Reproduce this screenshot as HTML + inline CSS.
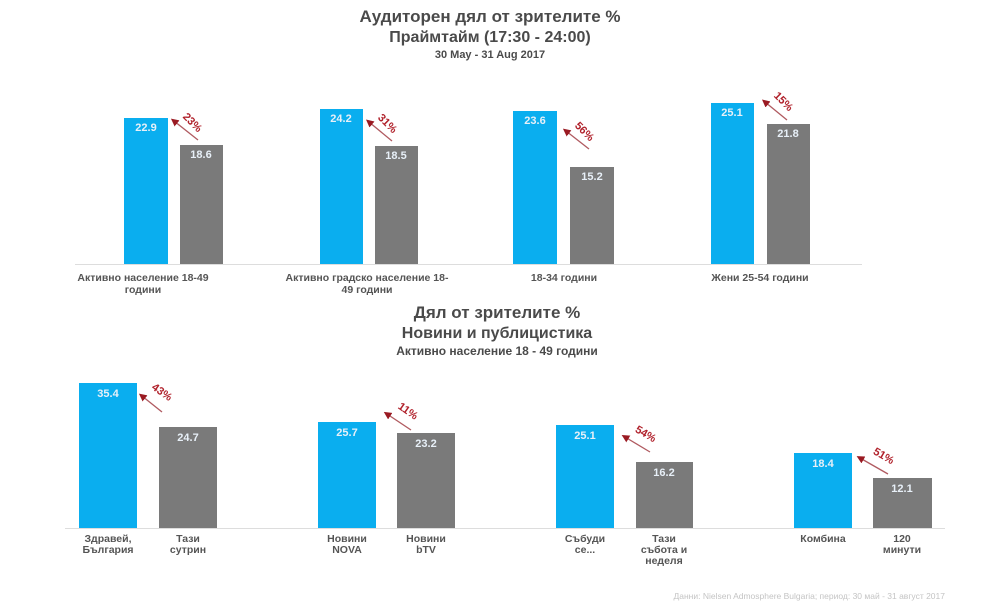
<!DOCTYPE html>
<html><head><meta charset="utf-8"><style>
html,body{margin:0;padding:0;background:#fff;}
svg{display:block;font-family:"Liberation Sans","DejaVu Sans",sans-serif;}
.t{fill:#4a4a4a;font-weight:bold;text-anchor:middle}
.v{fill:#e8f0f8;font-weight:bold;font-size:11px;text-anchor:middle}
.l{fill:#555;font-size:10.5px;font-weight:bold;text-anchor:middle}
.p{fill:#b0202a;font-weight:bold;font-size:11px;text-anchor:middle}
.b{fill:#0aaeef}.g{fill:#7a7a7a}
</style></head><body>
<svg width="991" height="608" viewBox="0 0 991 608">
<defs><marker id="a" markerWidth="6" markerHeight="6" refX="3" refY="3" orient="auto"><path d="M0,0 L6,3 L0,6 z" fill="#9a1a22"/></marker></defs>
<text class="t" x="490" y="22" font-size="17">Аудиторен дял от зрителите %</text>
<text class="t" x="490" y="42" font-size="16">Праймтайм (17:30 - 24:00)</text>
<text class="t" x="490" y="58" font-size="11">30 May - 31 Aug 2017</text>

<line x1="75" y1="264.5" x2="862" y2="264.5" stroke="#ddd"/>
<rect class="b" x="124" y="118" width="44" height="146"/><rect class="g" x="180" y="145" width="43" height="119"/>
<rect class="b" x="320" y="109" width="43" height="155"/><rect class="g" x="375" y="146" width="43" height="118"/>
<rect class="b" x="513" y="111" width="44" height="153"/><rect class="g" x="570" y="167" width="44" height="97"/>
<rect class="b" x="711" y="103" width="43" height="161"/><rect class="g" x="767" y="124" width="43" height="140"/>
<text class="v" x="146" y="131">22.9</text><text class="v" x="201" y="158">18.6</text>
<text class="v" x="341" y="122">24.2</text><text class="v" x="396" y="159">18.5</text>
<text class="v" x="535" y="124">23.6</text><text class="v" x="592" y="180">15.2</text>
<text class="v" x="732" y="116">25.1</text><text class="v" x="788" y="137">21.8</text>
<text class="l" x="143" y="281">Активно население 18-49</text><text class="l" x="143" y="293">години</text>
<text class="l" x="367" y="281">Активно градско население 18-</text><text class="l" x="367" y="293">49 години</text>
<text class="l" x="564" y="281">18-34 години</text>
<text class="l" x="760" y="281">Жени 25-54 години</text>

<text class="t" x="497" y="318" font-size="17">Дял от зрителите %</text>
<text class="t" x="497" y="338" font-size="16">Новини и публицистика</text>
<text class="t" x="497" y="355" font-size="12">Активно население 18 - 49 години</text>

<line x1="65" y1="528.5" x2="945" y2="528.5" stroke="#ddd"/>
<rect class="b" x="79" y="383" width="58" height="145"/><rect class="g" x="159" y="427" width="58" height="101"/>
<rect class="b" x="318" y="422" width="58" height="106"/><rect class="g" x="397" y="433" width="58" height="95"/>
<rect class="b" x="556" y="425" width="58" height="103"/><rect class="g" x="636" y="462" width="57" height="66"/>
<rect class="b" x="794" y="453" width="58" height="75"/><rect class="g" x="873" y="478" width="59" height="50"/>
<text class="v" x="108" y="397">35.4</text><text class="v" x="188" y="441">24.7</text>
<text class="v" x="347" y="436">25.7</text><text class="v" x="426" y="447">23.2</text>
<text class="v" x="585" y="439">25.1</text><text class="v" x="664" y="476">16.2</text>
<text class="v" x="823" y="467">18.4</text><text class="v" x="902" y="492">12.1</text>
<g class="l"><text x="108" y="542">Здравей,</text><text x="108" y="553">България</text>
<text x="188" y="542">Тази</text><text x="188" y="553">сутрин</text>
<text x="347" y="542">Новини</text><text x="347" y="553">NOVA</text>
<text x="426" y="542">Новини</text><text x="426" y="553">bTV</text>
<text x="585" y="542">Събуди</text><text x="585" y="553">се...</text>
<text x="664" y="542">Тази</text><text x="664" y="553">събота и</text><text x="664" y="564">неделя</text>
<text x="823" y="542">Комбина</text>
<text x="902" y="542">120</text><text x="902" y="553">минути</text></g>

<g stroke="#b05a60" stroke-width="1.3" marker-end="url(#a)">
<line x1="198" y1="140" x2="174" y2="121"/>
<line x1="392" y1="141" x2="369" y2="122"/>
<line x1="589" y1="149" x2="566" y2="131"/>
<line x1="787" y1="120" x2="765" y2="102"/>
<line x1="162" y1="412" x2="142" y2="396"/>
<line x1="411" y1="430" x2="387" y2="414"/>
<line x1="650" y1="452" x2="625" y2="437"/>
<line x1="888" y1="474" x2="860" y2="458"/>
</g>
<text class="p" transform="translate(190,125) rotate(45)">23%</text>
<text class="p" transform="translate(385,126) rotate(45)">31%</text>
<text class="p" transform="translate(582,134) rotate(45)">56%</text>
<text class="p" transform="translate(781,104) rotate(45)">15%</text>
<text class="p" transform="translate(160,395) rotate(35)">43%</text>
<text class="p" transform="translate(406,414) rotate(35)">11%</text>
<text class="p" transform="translate(644,437) rotate(30)">54%</text>
<text class="p" transform="translate(882,459) rotate(30)">51%</text>
<text x="945" y="599" font-size="8.5" fill="#c4c4c4" text-anchor="end">Данни: Nielsen Admosphere Bulgaria; период: 30 май - 31 август 2017</text>
</svg>
</body></html>
